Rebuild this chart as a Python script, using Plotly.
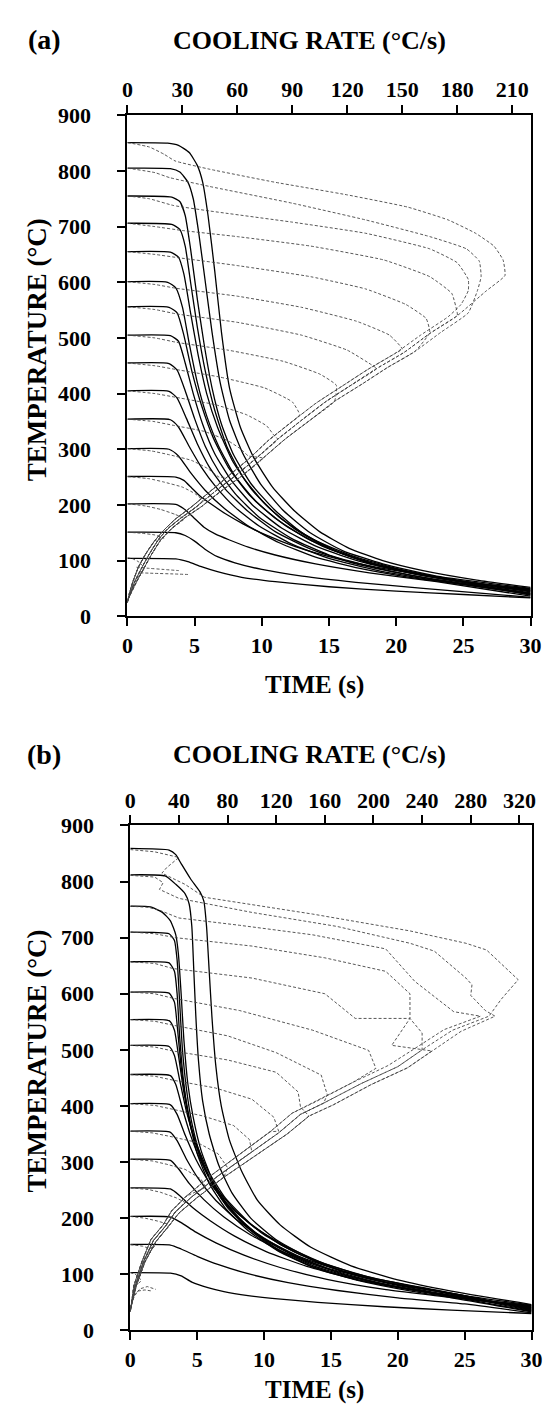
import plotly.graph_objects as go

# ---------------- Panel (a) : temperature vs time (solid) ----------------
a_s850 = [(0,851),(3.0,850),(3.8,846),(4.6,833),(5.2,810),(5.6,780),(6.0,720),(6.5,620),(7.0,510),(7.6,410),(8.4,340),(9.4,285),(10.8,232),(12.4,190),(14.3,152),(16.5,122),(19,100),(22,82),(26,65),(30,52)]
a_s800 = [(0,805),(3.2,804),(3.9,798),(4.5,780),(4.9,750),(5.3,690),(5.8,600),(6.3,510),(6.9,420),(7.6,352),(8.6,292),(9.9,238),(11.6,190),(13.6,150),(16,118),(19,94),(23,72),(30,50)]
a_s750 = [(0,755),(3.3,753),(3.9,745),(4.3,720),(4.7,660),(5.2,570),(5.7,490),(6.3,410),(7.0,345),(7.9,290),(9.2,238),(11,190),(13,150),(15.5,118),(18.5,93),(22,74),(26,59),(30,49)]
a_s700 = [(0,706),(3.3,704),(3.9,695),(4.3,665),(4.7,600),(5.2,520),(5.8,440),(6.5,370),(7.4,305),(8.6,250),(10.3,200),(12.5,156),(15,122),(18,95),(22,73),(26,58),(30,48)]
a_s650 = [(0,655),(3.2,654),(3.8,645),(4.2,615),(4.7,545),(5.3,465),(5.9,400),(6.7,340),(7.8,280),(9.3,226),(11.3,178),(13.8,138),(16.8,108),(20,86),(24,66),(30,47)]
a_s600 = [(0,601),(3.0,600),(3.6,590),(4.1,555),(4.6,490),(5.2,420),(5.9,360),(6.8,305),(8.0,252),(9.6,205),(11.8,162),(14.5,126),(17.5,100),(21,80),(25,63),(30,46)]
a_s550 = [(0,556),(3.1,555),(3.7,545),(4.2,505),(4.8,440),(5.5,380),(6.4,320),(7.5,268),(9,220),(11,176),(13.5,138),(16.5,108),(20,84),(24,66),(30,45)]
a_s500 = [(0,505),(3.2,504),(3.8,494),(4.3,455),(4.9,400),(5.6,345),(6.5,292),(7.7,245),(9.3,200),(11.5,158),(14.2,124),(17.5,97),(21,78),(25,61),(30,44)]
a_s450 = [(0,455),(3.1,454),(3.7,442),(4.3,405),(5.0,355),(5.8,305),(6.8,260),(8.1,218),(9.8,178),(12.2,140),(15,110),(18.5,87),(22.5,68),(30,42)]
a_s400 = [(0,405),(3.1,404),(3.7,392),(4.4,355),(5.2,310),(6.1,268),(7.3,228),(8.9,190),(11,152),(13.7,120),(17,94),(21,74),(25,58),(30,41)]
a_s350 = [(0,354),(3.2,353),(3.8,340),(4.6,305),(5.5,268),(6.6,232),(8,196),(9.8,162),(12.2,130),(15,104),(18.5,83),(22.5,66),(30,40)]
a_s300 = [(0,301),(3.1,300),(3.8,288),(4.7,258),(5.8,226),(7.2,194),(9,162),(11.3,132),(14,106),(17.3,86),(21,70),(25,57),(30,39)]
a_s250 = [(0,251),(3.6,250),(4.2,244),(4.8,230),(5.4,216),(6.2,202),(7.3,184),(8.6,166),(10.3,146),(12.5,125),(15.5,104),(19,86),(24,66),(30,38)]
a_s200 = [(0,202),(3.6,201),(4.2,193),(4.9,178),(5.7,160),(6.6,147),(7.6,137),(9,124),(11,110),(14,94),(18,78),(23,62),(30,36)]
a_s150 = [(0,151),(3.6,150),(4.3,145),(5,135),(5.8,120),(6.7,107),(8,96),(10,84),(13,72),(17,61),(22,50),(30,34)]
a_s100 = [(0,104),(3.6,103),(4.5,98),(5.5,89),(6.7,80),(8.5,70),(11,62),(15,53),(20,45),(25,39),(30,33)]

# ---------------- Panel (a) : temperature vs cooling rate (dashed) ----------------
a_env1 = [(206,612),(196,585),(180,540),(165,508),(151,474),(136,445),(122,415),(108,385),(95,352),(82,318),(70,283),(58,250),(47,222),(37,195),(29,176),(22,157),(17,138),(12,112),(8,88),(4,62),(1.5,40),(0,26)]
a_env2 = [(206,612),(200,590),(186,545),(171,510),(157,476),(142,447),(128,417),(113,386),(100,353),(86,318),(74,284),(62,251),(50,222),(40,196),(31,176),(24,157),(18,136),(13,110),(9,86),(5,62),(2,42),(0,28)]
a_env3 = [(206,612),(192,582),(175,538),(160,505),(146,472),(131,443),(117,413),(103,383),(90,350),(77,316),(66,282),(54,249),(44,221),(34,194),(26,174),(20,155),(15,136),(10,112),(6,88),(3,62),(1,40),(0,24)]
a_d850 = [(0,851),(12,843),(20,830),(26,818),(45,803),(80,780),(120,757),(153,735),(175,712),(190,688),(200,665),(205,640),(206,612)]
a_d800 = [(0,805),(15,797),(23,788),(45,772),(90,742),(130,712),(165,682),(185,660),(192,638),(193,610),(191,585)]
a_d750 = [(0,755),(12,750),(25,738),(45,728),(90,708),(130,688),(165,660),(180,635),(186,605),(186,585),(182,560)]
a_d700 = [(0,706),(15,700),(30,693),(60,682),(100,665),(140,640),(165,610),(177,580),(180,545)]
a_d650 = [(0,655),(15,650),(28,644),(60,630),(100,610),(130,588),(152,560),(163,535),(165,510)]
a_d600 = [(0,601),(15,596),(27,589),(60,575),(95,555),(125,530),(143,505),(150,480)]
a_d550 = [(0,556),(15,551),(27,543),(60,528),(95,505),(120,478),(134,450)]
a_d500 = [(0,505),(15,500),(27,492),(55,478),(85,458),(105,435),(114,415)]
a_d450 = [(0,455),(15,450),(27,443),(50,430),(75,410),(90,385),(94,362)]
a_d400 = [(0,405),(15,400),(27,393),(48,380),(65,362),(76,342),(80,325)]
a_d350 = [(0,354),(14,350),(25,343),(42,332),(55,315),(62,300),(66,288)]
a_d300 = [(0,301),(13,297),(23,290),(35,280),(44,265),(50,250)]
a_d250 = [(0,251),(12,247),(20,241),(30,232),(37,220),(41,208)]
a_d200 = [(0,202),(10,198),(18,192),(26,183),(31,175)]
a_d150 = [(0,151),(8,149),(15,146),(20,140)]
a_d100 = [(0,105),(3,103),(6,98),(8,92),(9,85)]
a_noise1 = [(5,88),(12,86),(20,84),(28,82)]
a_noise2 = [(7,78),(15,77),(25,76),(33,75)]

# ---------------- Panel (b) : temperature vs time (solid) ----------------
b_s859 = [(0,859),(2.9,856),(3.4,848),(3.8,832),(4.5,805),(5.2,782),(5.5,765),(5.7,720),(5.9,640),(6.1,560),(6.4,470),(6.8,400),(7.4,340),(8.3,285),(9.5,232),(11.2,188),(13.5,148),(16.5,115),(20,90),(24,70),(30,46)]
b_s812 = [(0,812),(2.6,810),(3.4,795),(4.1,778),(4.4,760),(4.6,720),(4.75,640),(4.9,560),(5.1,480),(5.4,410),(5.9,350),(6.6,295),(7.6,245),(9,200),(11,160),(13.5,128),(17,100),(21,79),(25,62),(30,45)]
b_s756 = [(0,756),(1.5,755),(2.4,745),(3.0,730),(3.4,705),(3.6,670),(3.8,600),(4.0,520),(4.3,440),(4.7,380),(5.3,320),(6.2,265),(7.4,220),(9,180),(11,145),(13.7,115),(17,92),(21,73),(25,58),(30,44)]
b_s710 = [(0,710),(2.9,707),(3.3,695),(3.5,660),(3.7,580),(3.9,500),(4.2,430),(4.6,370),(5.2,315),(6.1,262),(7.3,218),(9,178),(11,143),(13.7,113),(17,90),(21,72),(25,57),(30,43)]
b_s657 = [(0,657),(2.9,655),(3.3,640),(3.5,600),(3.7,520),(4.0,440),(4.4,375),(5.0,315),(5.9,262),(7.1,218),(8.8,178),(11,142),(13.7,112),(17,89),(21,70),(25,56),(30,42)]
b_s603 = [(0,603),(2.9,601),(3.3,585),(3.5,545),(3.8,470),(4.2,405),(4.8,340),(5.6,285),(6.8,235),(8.4,192),(10.5,155),(13.2,122),(16.5,96),(20.5,75),(25,58),(30,41)]
b_s554 = [(0,554),(2.9,552),(3.3,535),(3.6,490),(4.0,425),(4.5,365),(5.2,310),(6.2,260),(7.6,212),(9.5,172),(12,137),(15,108),(18.5,85),(22.5,67),(30,40)]
b_s508 = [(0,508),(2.9,506),(3.3,490),(3.7,445),(4.2,390),(4.9,335),(5.8,285),(7.1,236),(8.9,192),(11.2,153),(14,121),(17.5,94),(21.5,73),(30,39)]
b_s456 = [(0,456),(3.0,454),(3.4,438),(3.9,395),(4.5,348),(5.3,300),(6.4,255),(7.9,212),(9.9,172),(12.5,137),(15.7,107),(19.5,84),(24,65),(30,38)]
b_s404 = [(0,404),(3.0,402),(3.5,385),(4.1,348),(4.9,305),(5.9,264),(7.3,224),(9.2,185),(11.6,150),(14.6,118),(18.3,92),(23,71),(30,37)]
b_s355 = [(0,355),(3.0,353),(3.5,338),(4.2,305),(5.1,270),(6.3,234),(7.9,198),(10,163),(12.7,131),(16,104),(20,81),(25,62),(30,36)]
b_s305 = [(0,305),(3.0,303),(3.6,288),(4.4,262),(5.5,233),(7,202),(9,170),(11.5,139),(14.6,112),(18.5,88),(23,69),(30,35)]
b_s254 = [(0,254),(3.0,252),(3.7,240),(4.7,218),(6,195),(7.8,168),(10.2,140),(13.2,114),(17,90),(21.5,71),(30,34)]
b_s203 = [(0,203),(3.0,202),(3.8,192),(4.9,175),(6.4,156),(8.5,134),(11.2,112),(14.7,91),(19,73),(24,58),(30,33)]
b_s153 = [(0,153),(3.0,152),(3.8,145),(5,132),(6.6,117),(8.8,101),(11.8,85),(15.5,71),(20,58),(25,47),(30,31)]
b_s103 = [(0,103),(3.0,102),(3.8,97),(4.6,86),(5.8,76),(7,69),(8.8,62),(10.6,57),(14,50),(19,42),(24,36),(30,30)]

# ---------------- Panel (b) : temperature vs cooling rate (dashed) ----------------
b_env1 = [(319,625),(305,590),(295,560),(265,535),(240,500),(220,470),(190,440),(159,405),(140,385),(122,352),(96,312),(72,275),(50,237),(37,211),(29,186),(19,160),(11,123),(4,79),(0,35)]
b_env2 = [(319,625),(308,590),(300,560),(272,533),(248,498),(228,468),(198,438),(167,402),(147,382),(129,350),(102,310),(77,273),(54,235),(40,209),(31,184),(21,158),(12,122),(5,80),(0,37)]
b_env3 = [(319,625),(300,590),(288,560),(258,536),(233,501),(212,472),(183,442),(152,407),(133,387),(115,354),(90,314),(67,277),(46,239),(34,213),(27,188),(17,162),(10,125),(3,80),(0,33)]
b_d859 = [(0,857),(20,853),(40,843),(30,825),(26,815),(45,795),(61,772),(150,742),(230,712),(276,690),(293,678),(319,625)]
b_d812 = [(0,811),(20,808),(27,798),(24,786),(40,770),(100,745),(170,720),(230,690),(250,676),(276,628),(281,616),(280,597),(292,570)]
b_d756 = [(0,756),(15,754),(25,748),(40,735),(90,722),(150,705),(210,680),(234,622),(250,595),(266,568)]
b_d710 = [(0,710),(20,707),(37,700),(100,685),(160,664),(210,640),(230,600),(230,556),(240,530)]
b_d657 = [(0,657),(20,654),(35,645),(100,628),(160,600),(185,556),(230,556),(215,508)]
b_d603 = [(0,603),(20,600),(35,592),(90,570),(150,535),(196,499),(202,467)]
b_d554 = [(0,554),(20,551),(35,544),(80,525),(120,495),(157,455),(162,420)]
b_d508 = [(0,508),(20,505),(35,498),(80,482),(120,460),(138,425),(140,398)]
b_d456 = [(0,456),(20,453),(35,446),(70,432),(100,412),(118,380),(122,355)]
b_d404 = [(0,404),(20,401),(35,394),(60,382),(85,365),(98,340),(100,318)]
b_d355 = [(0,355),(18,352),(32,346),(55,335),(72,315),(80,290)]
b_d305 = [(0,305),(18,302),(30,296),(45,287),(58,270),(62,255)]
b_d254 = [(0,254),(15,251),(25,246),(38,236),(45,228)]
b_d203 = [(0,203),(12,200),(22,195),(30,190)]
b_d153 = [(0,153),(10,150),(16,146),(20,150)]
b_d103 = [(0,103),(4,100),(7,95),(9,88)]
b_noise1 = [(3,62),(8,74),(14,78),(21,73)]
b_noise2 = [(2,55),(6,70),(12,72),(18,70)]

# tick labels
time_ticks = [0, 5, 10, 15, 20, 25, 30]
temp_ticks = [0, 100, 200, 300, 400, 500, 600, 700, 800, 900]
rate_ticks_a = [0, 30, 60, 90, 120, 150, 180, 210]
rate_ticks_b = [0, 40, 80, 120, 160, 200, 240, 280, 320]

a_solid = [a_s850, a_s800, a_s750, a_s700, a_s650, a_s600, a_s550, a_s500,
           a_s450, a_s400, a_s350, a_s300, a_s250, a_s200, a_s150, a_s100]
a_dashed = [a_d850, a_d800, a_d750, a_d700, a_d650, a_d600, a_d550, a_d500,
            a_d450, a_d400, a_d350, a_d300, a_d250, a_d200, a_d150, a_d100]
b_solid = [b_s859, b_s812, b_s756, b_s710, b_s657, b_s603, b_s554, b_s508,
           b_s456, b_s404, b_s355, b_s305, b_s254, b_s203, b_s153, b_s103]
b_dashed = [b_d859, b_d812, b_d756, b_d710, b_d657, b_d603, b_d554, b_d508,
            b_d456, b_d404, b_d355, b_d305, b_d254, b_d203, b_d153, b_d103]
a_envs = [a_env1, a_env2, a_env3]
b_envs = [b_env1, b_env2, b_env3]

W, H = 552, 1409
FONT = "Liberation Serif, Times New Roman, serif"

fig = go.Figure()

def add_line(pts, xa, ya, dashed, smooth=True):
    xs = [p[0] for p in pts]
    ys = [p[1] for p in pts]
    if dashed:
        line = dict(color="#444444", width=0.9, dash="3px,2px")
        if smooth:
            line.update(shape="spline", smoothing=0.4)
    else:
        line = dict(color="black", width=1.3, shape="spline", smoothing=0.5)
    fig.add_trace(go.Scatter(x=xs, y=ys, mode="lines", line=line, xaxis=xa, yaxis=ya,
                             hoverinfo="skip", showlegend=False))

def with_env(shelf, env):
    last = shelf[-1][1]
    return shelf + [p for p in env if p[1] < last]

for i, c in enumerate(a_dashed):
    add_line(with_env(c, a_envs[i % 3]), "x2", "y", True)
for c in (a_noise1, a_noise2):
    add_line(c, "x2", "y", True)
for c in a_solid:
    add_line(c, "x", "y", False)

for i, c in enumerate(b_dashed):
    add_line(with_env(c, b_envs[i % 3]), "x4", "y2", True, smooth=False)
for c in (b_noise1, b_noise2):
    add_line(c, "x4", "y2", True, smooth=False)
for c in b_solid:
    add_line(c, "x3", "y2", False)

tickfont = dict(family=FONT, size=22, color="black", weight="bold")
common = dict(showgrid=False, zeroline=False, showline=True, linecolor="black", linewidth=2,
              ticks="outside", ticklen=8, tickwidth=1.5, tickcolor="black", tickfont=tickfont)

def px_x(px):
    return px / W

def px_y(py):
    return 1 - py / H

fig.update_layout(
    width=W, height=H, margin=dict(l=0, r=0, t=0, b=0),
    paper_bgcolor="white", plot_bgcolor="white", showlegend=False,
    xaxis=dict(domain=[px_x(117), px_x(533)], range=[0, 30], tickvals=time_ticks, anchor="y",
               side="bottom", ticklabelstandoff=0, **common),
    xaxis2=dict(domain=[px_x(117), px_x(533)], range=[0, 220], tickvals=rate_ticks_a, anchor="y",
                overlaying="x", side="top", ticklabelstandoff=-1, **common),
    yaxis=dict(domain=[px_y(607), px_y(97)], range=[0, 900], tickvals=temp_ticks, anchor="x",
               mirror=True, ticklabelstandoff=22, **common),
    xaxis3=dict(domain=[px_x(120), px_x(534)], range=[0, 30], tickvals=time_ticks, anchor="y2",
                side="bottom", ticklabelstandoff=0, **common),
    xaxis4=dict(domain=[px_x(120), px_x(534)], range=[0, 330], tickvals=rate_ticks_b, anchor="y2",
                overlaying="x3", side="top", ticklabelstandoff=-1, **common),
    yaxis2=dict(domain=[px_y(1334), px_y(820)], range=[0, 900], tickvals=temp_ticks, anchor="x3",
                mirror=True, ticklabelstandoff=22, **common),
)

def ann(text, px, py, size, angle=0):
    fig.add_annotation(text=text, x=px_x(px), y=px_y(py), xref="paper", yref="paper",
                       showarrow=False, textangle=angle, xanchor="center", yanchor="middle",
                       font=dict(family=FONT, size=size, color="black", weight="bold"))

ann("(a)", 31, 20, 28)
ann("COOLING RATE (°C/s)", 305, 21, 26)
ann("TEMPERATURE (°C)", 24, 336, 27, -90)
ann("TIME (s)", 310, 677, 25)

ann("(b)", 31, 748, 28)
ann("COOLING RATE (°C/s)", 305, 748, 26)
ann("TEMPERATURE (°C)", 24, 1060, 27, -90)
ann("TIME (s)", 310, 1395, 25)

fig.write_html("out.html")
